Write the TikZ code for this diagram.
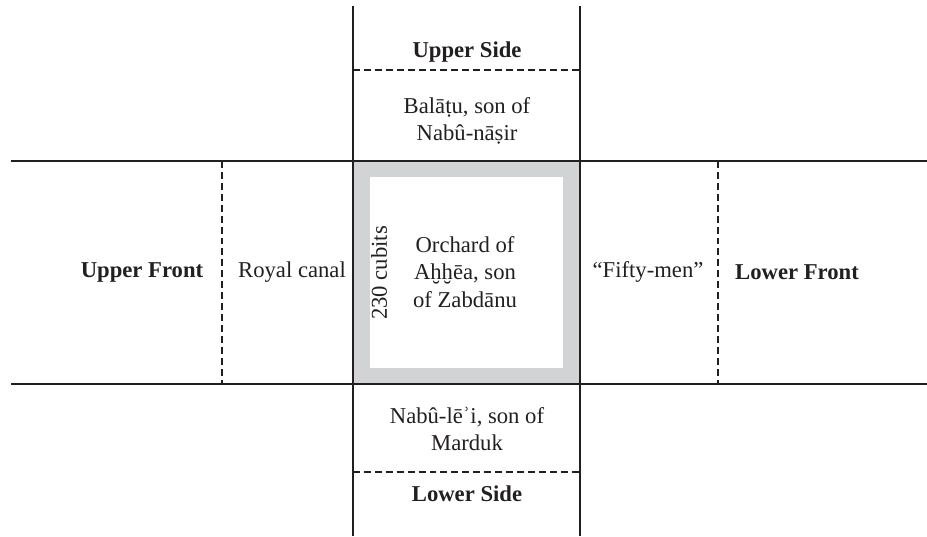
\documentclass[tikz,border=0pt]{standalone}
\usepackage{fontspec}
\setmainfont{Liberation Serif}
\definecolor{ink}{RGB}{35,31,32}
\definecolor{band}{RGB}{209,211,212}
\begin{document}
\begin{tikzpicture}[x=0.75pt,y=-0.75pt,
  solidline/.style={draw=ink,line width=1.6pt},
  dashline/.style={draw=ink,line width=1.6pt,dash pattern=on 5.2pt off 3pt},
  lbl/.style={text=ink,font=\fontsize{17}{20.5}\selectfont,align=center,inner sep=0pt},
  blbl/.style={lbl,font=\fontsize{17}{20.5}\selectfont\bfseries}]
\useasboundingbox (0,0) rectangle (927,536);
% orchard band
\fill[band] (353,161) rectangle (580,384);
\fill[white] (370,177) rectangle (563,368);
% solid borders
\draw[solidline] (353,6) -- (353,536);
\draw[solidline] (580,6) -- (580,536);
\draw[solidline] (11,161) -- (927,161);
\draw[solidline] (11,384) -- (927,384);
% dashed borders
\draw[dashline] (353,70) -- (580,70);
\draw[dashline] (353,472) -- (580,472);
\draw[dashline] (222,161) -- (222,384);
\draw[dashline] (718,161) -- (718,384);
% labels
\node[blbl] (us) at (467,52) {Upper Side};
\node[lbl] (bal) at (467,121) {Balāṭu, son of\\Nabû-nāṣir};
\node[lbl] (orch) at (465,272) {Orchard of\\Aḫḫēa, son\\of Zabdānu};
\node[lbl,rotate=90] (cub) at (379,273) {230 cubits};
\node[lbl] (nab) at (467,429) {Nabû-lēʾi, son of\\Marduk};
\node[blbl] (ls) at (467,494) {Lower Side};
\node[blbl] (uf) at (142,272) {Upper Front};
\node[lbl] (rc) at (292,272) {Royal canal};
\node[lbl] (fm) at (648,272) {“Fifty-men”};
\node[blbl] (lf) at (797,272) {Lower Front};
\end{tikzpicture}
\end{document}
